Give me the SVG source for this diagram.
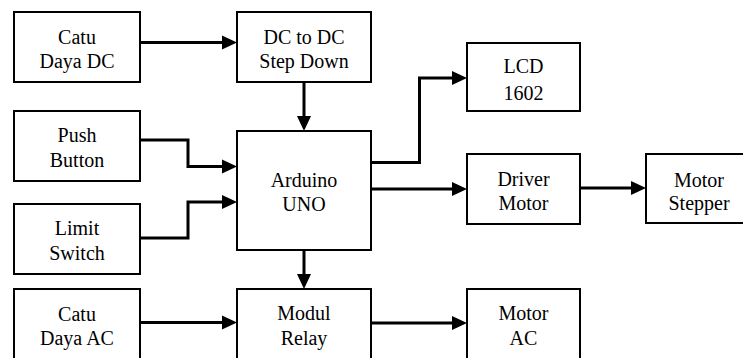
<svg xmlns="http://www.w3.org/2000/svg" width="743" height="358" viewBox="0 0 743 358">
<style>
.box{fill:#fff;stroke:#000;stroke-width:2}
.lbl{font-family:'Liberation Serif','DejaVu Serif',serif;font-size:20px;fill:#000;text-anchor:middle}
.con{fill:none;stroke:#000;stroke-width:3;stroke-linejoin:miter}
</style>
<defs>
<marker id="arr" markerUnits="userSpaceOnUse" markerWidth="16" markerHeight="14" refX="5" refY="7" orient="auto" overflow="visible">
<path d="M0,0 L15,7 L0,14 Z" fill="#000"/>
</marker>
</defs>
<rect width="743" height="358" fill="#fff"/>
<g id="connectors">
<path class="con" marker-end="url(#arr)" d="M140,42.5 H227"/>
<path class="con" marker-end="url(#arr)" d="M304,82 V121"/>
<path class="con" marker-end="url(#arr)" d="M140,140 H188 V166.5 H227"/>
<path class="con" marker-end="url(#arr)" d="M140,238 H188 V202 H227"/>
<path class="con" marker-end="url(#arr)" d="M304,250 V279"/>
<path class="con" marker-end="url(#arr)" d="M140,322.5 H227"/>
<path class="con" marker-end="url(#arr)" d="M371,162.5 H419.5 V78 H457"/>
<path class="con" marker-end="url(#arr)" d="M371,189 H457"/>
<path class="con" marker-end="url(#arr)" d="M580,188 H636"/>
<path class="con" marker-end="url(#arr)" d="M371,323 H457"/>
</g>
<g id="catu-dc">
<rect class="box" x="14" y="12" width="126" height="70"/>
<text class="lbl" x="77" y="44">Catu</text>
<text class="lbl" x="77" y="68">Daya DC</text>
</g>
<g id="dc-dc">
<rect class="box" x="237" y="12" width="134" height="70"/>
<text class="lbl" x="304" y="44">DC to DC</text>
<text class="lbl" x="304" y="68">Step Down</text>
</g>
<g id="push-button">
<rect class="box" x="14" y="111" width="126" height="70"/>
<text class="lbl" x="77" y="142">Push</text>
<text class="lbl" x="77" y="166.5">Button</text>
</g>
<g id="arduino">
<rect class="box" x="237" y="131" width="134" height="119"/>
<text class="lbl" x="304" y="186.5">Arduino</text>
<text class="lbl" x="304" y="210.5">UNO</text>
</g>
<g id="limit-switch">
<rect class="box" x="14" y="204" width="126" height="70"/>
<text class="lbl" x="77" y="235">Limit</text>
<text class="lbl" x="77" y="259.5">Switch</text>
</g>
<g id="catu-ac">
<rect class="box" x="14" y="289" width="126" height="80"/>
<text class="lbl" x="77" y="320.5">Catu</text>
<text class="lbl" x="77" y="345">Daya AC</text>
</g>
<g id="modul-relay">
<rect class="box" x="237" y="289" width="134" height="80"/>
<text class="lbl" x="304" y="320">Modul</text>
<text class="lbl" x="304" y="344.5">Relay</text>
</g>
<g id="lcd">
<rect class="box" x="467" y="43" width="113" height="68"/>
<text class="lbl" x="523.5" y="73">LCD</text>
<text class="lbl" x="523.5" y="99.5">1602</text>
</g>
<g id="driver-motor">
<rect class="box" x="467" y="154" width="113" height="70"/>
<text class="lbl" x="523.5" y="185.5">Driver</text>
<text class="lbl" x="523.5" y="209.5">Motor</text>
</g>
<g id="motor-stepper">
<rect class="box" x="646" y="154" width="106" height="69"/>
<text class="lbl" x="699" y="186.5">Motor</text>
<text class="lbl" x="699" y="210">Stepper</text>
</g>
<g id="motor-ac">
<rect class="box" x="467" y="289" width="113" height="80"/>
<text class="lbl" x="523.5" y="319.5">Motor</text>
<text class="lbl" x="523.5" y="344.5">AC</text>
</g>
</svg>
